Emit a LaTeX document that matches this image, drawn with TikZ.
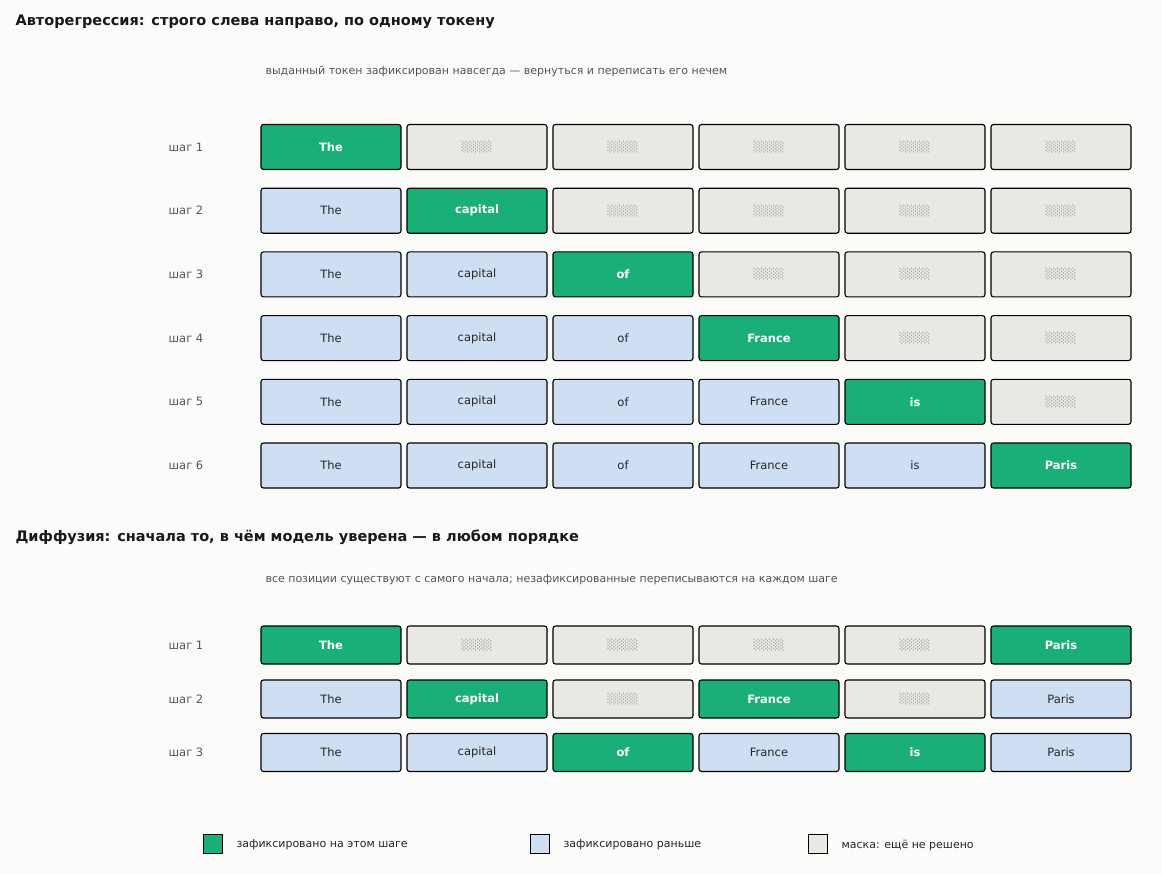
\documentclass[tikz,border=0pt]{standalone}
\usepackage{fontspec}
\setmainfont{DejaVu Sans}
\begin{document}
\definecolor{bg}{HTML}{FBFBF9}
\definecolor{gr}{HTML}{1BAF78}
\definecolor{bl}{HTML}{CFDFF3}
\definecolor{mk}{HTML}{EAE8E3}
\definecolor{lab}{HTML}{555555}
\begin{tikzpicture}[x=1pt,y=-1pt,
 cell/.style={draw=black,line width=1.1pt,rounded corners=2.5pt,minimum width=140pt,font=\fontsize{11.5}{13}\selectfont},
 big/.style={cell,minimum height=45pt},
 sm/.style={cell,minimum height=38pt},
 G/.style={fill=gr,text=white,font=\fontsize{11.5}{13}\selectfont\bfseries},
 B/.style={fill=bl,text=black!85},
 M/.style={fill=mk,text=black!45},
 lbl/.style={font=\fontsize{11.5}{13}\selectfont,text=lab},
 ttl/.style={anchor=west,font=\fontsize{14.5}{17}\selectfont\bfseries,text=black!90},
 sub/.style={anchor=west,font=\fontsize{11}{13}\selectfont,text=lab},
 lg/.style={draw=black,line width=1pt,minimum size=19pt,inner sep=0pt},
 lgt/.style={anchor=west,font=\fontsize{11}{13}\selectfont,text=black!85}]
\fill[bg] (0,0) rectangle (1162,873);
\useasboundingbox (0,0) rectangle (1162,873);
\def\mask{\fontsize{10}{12}\selectfont░░░░}
\node[ttl] (t1) at (12,22) {Авторегрессия: строго слева направо, по одному токену};
\node[sub] (s1) at (262,71) {выданный токен зафиксирован навсегда — вернуться и переписать его нечем};
\node[ttl] (t2) at (12,537) {Диффузия: сначала то, в чём модель уверена — в любом порядке};
\node[sub] (s2) at (262,580) {все позиции существуют с самого начала; незафиксированные переписываются на каждом шаге};
\def\words{{"The","capital","of","France","is","Paris"}}
\foreach \r/\y in {1/147,2/210.7,3/274.4,4/338.1,5/401.8,6/465.5}{
 \node[lbl] (a\r) at (186,\y) {шаг \r};
 \foreach \c in {1,...,6}{
  \pgfmathsetmacro\xx{331+146*(\c-1)}
  \pgfmathparse{\words[\c-1]}\let\w\pgfmathresult
  \ifnum\c<\r \node[big,B] (ar\r c\c) at (\xx,\y) {\w};
  \else\ifnum\c=\r \node[big,G] (ar\r c\c) at (\xx,\y) {\w};
  \else \node[big,M] (ar\r c\c) at (\xx,\y) {\mask};\fi\fi
 }}
\node[lbl] (d1) at (186,645) {шаг 1};
\node[lbl] (d2) at (186,699) {шаг 2};
\node[lbl] (d3) at (186,752.5) {шаг 3};
\def\dcell#1#2#3#4{\pgfmathsetmacro\xx{331+146*(#1-1)}\pgfmathparse{\words[#1-1]}\let\w\pgfmathresult
 \if#3M\node[sm,M] (dr#2c#1) at (\xx,#4) {\mask};\else\node[sm,#3] (dr#2c#1) at (\xx,#4) {\w};\fi}
\dcell1{1}G{645}\dcell2{1}M{645}\dcell3{1}M{645}\dcell4{1}M{645}\dcell5{1}M{645}\dcell6{1}G{645}
\dcell1{2}B{699}\dcell2{2}G{699}\dcell3{2}M{699}\dcell4{2}G{699}\dcell5{2}M{699}\dcell6{2}B{699}
\dcell1{3}B{752.5}\dcell2{3}B{752.5}\dcell3{3}G{752.5}\dcell4{3}B{752.5}\dcell5{3}G{752.5}\dcell6{3}B{752.5}
\node[lg,fill=gr] (l1) at (213,844) {};
\node[lgt] (l1t) at (233,845) {зафиксировано на этом шаге};
\node[lg,fill=bl] (l2) at (540,844) {};
\node[lgt] (l2t) at (560,845) {зафиксировано раньше};
\node[lg,fill=mk] (l3) at (818,844) {};
\node[lgt] (l3t) at (838,845) {маска: ещё не решено};
\end{tikzpicture}
\end{document}
